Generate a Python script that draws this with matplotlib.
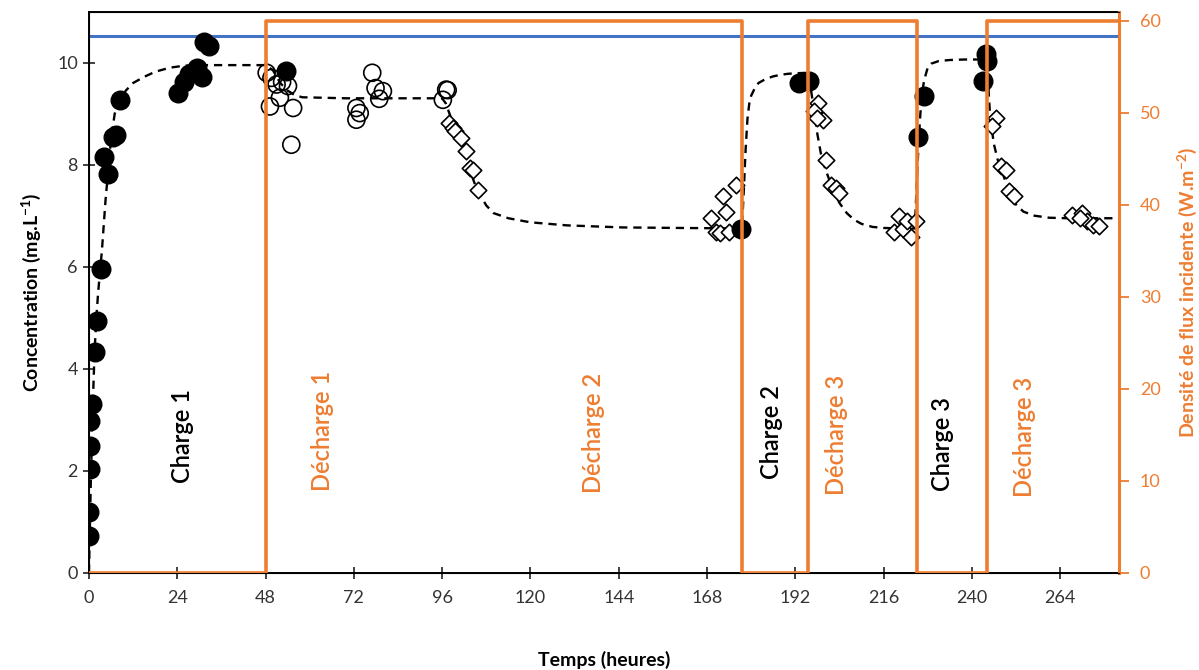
import matplotlib
matplotlib.use('Agg')
import matplotlib.pyplot as plt

# couleurs type Excel
ORANGE = '#ED7D31'
BLEU = '#4472C4'

# charge (ronds pleins)
charge_t = [0.0, 0.1, 0.3, 0.2, 0.4, 0.9, 1.7, 2.3, 3.2, 4.1, 5.2, 6.6, 7.4, 8.4,
            24.2, 25.8, 27.1, 29.4, 30.8, 31.3, 32.6, 53.5,
            177.2, 193.1, 195.8, 225.3, 227.1, 242.9, 243.8, 244.0]
charge_c = [0.73, 1.2, 2.03, 2.49, 2.98, 3.32, 4.33, 4.93, 5.95, 8.15, 7.82, 8.55, 8.58, 9.27,
            9.40, 9.62, 9.77, 9.89, 9.72, 10.41, 10.32, 9.83,
            6.74, 9.60, 9.63, 8.55, 9.34, 9.63, 10.16, 10.03]

# decharge 1 (ronds vides)
dech1_t = [48.3, 49.6, 51.0, 49.2, 51.9, 54.1, 55.5, 55.0, 52.5,
           72.7, 73.6, 72.7, 77.0, 77.9, 79.9, 78.9, 97.1, 97.5, 96.2]
dech1_c = [9.80, 9.70, 9.57, 9.14, 9.31, 9.54, 9.11, 8.39, 9.62,
           9.11, 9.01, 8.88, 9.80, 9.50, 9.44, 9.29, 9.47, 9.46, 9.27]

# decharges 2 et 3 (losanges)
dech2_t = [98.0, 98.9, 99.6, 101.2, 102.6, 103.5, 104.4, 105.7,
           175.9, 172.3, 173.2, 169.1, 170.5, 171.4, 174.1,
           198.1, 197.2, 199.4, 197.8, 200.3, 201.7, 203.1, 203.9,
           220.3, 218.9, 221.2, 222.5, 223.4, 224.8,
           246.5, 245.6, 247.9, 249.2, 250.1, 251.5,
           267.3, 270.0, 271.4, 272.8, 274.6, 269.5]
dech2_c = [8.82, 8.72, 8.65, 8.52, 8.26, 7.93, 7.90, 7.51,
           7.61, 7.38, 7.08, 6.95, 6.69, 6.66, 6.69,
           9.21, 9.05, 8.88, 8.91, 8.10, 7.61, 7.54, 7.44,
           6.99, 6.69, 6.73, 6.89, 6.59, 6.89,
           8.91, 8.75, 7.97, 7.90, 7.48, 7.38,
           7.02, 7.05, 6.89, 6.82, 6.79, 6.95]

# courbe du modele (pointilles)
fit_t = [0, 0.5, 1, 1.5, 2, 2.5, 3, 3.5, 4, 4.5, 5, 6, 7, 8, 10, 12, 15, 18, 22, 26, 30, 36, 42, 48,
         50, 52, 54, 56, 58, 70, 85, 96,
         97, 98, 99, 100, 101, 102, 103, 104, 105, 106, 108, 110, 114, 120, 130, 145, 160, 177.5,
         178, 178.5, 179, 179.5, 180, 181, 182, 184, 186, 188, 190, 192, 195.5,
         196, 196.5, 197, 198, 199, 200, 201, 202, 203, 204, 206, 208, 210, 213, 216, 220, 224.5,
         225, 225.5, 226, 226.5, 227, 228, 229, 231, 234, 238, 244,
         244.5, 245, 246, 247, 248, 249, 250, 251, 252, 254, 257, 261, 266, 272, 280]
fit_c = [0, 1.8, 3.2, 4.3, 5.0, 5.5, 5.9, 6.3, 6.8, 7.3, 7.7, 8.5, 9.0, 9.2, 9.45, 9.6, 9.72, 9.82, 9.9, 9.94, 9.95, 9.95, 9.95, 9.95,
         9.85, 9.6, 9.45, 9.36, 9.32, 9.3, 9.3, 9.3,
         9.2, 9.0, 8.8, 8.6, 8.4, 8.2, 8.0, 7.8, 7.6, 7.45, 7.2, 7.05, 6.95, 6.87, 6.81, 6.77, 6.76, 6.75,
         7.5, 8.3, 8.9, 9.2, 9.35, 9.5, 9.6, 9.68, 9.73, 9.76, 9.78, 9.79, 9.8,
         9.6, 9.35, 9.1, 8.6, 8.2, 7.95, 7.75, 7.55, 7.4, 7.25, 7.05, 6.92, 6.84, 6.78, 6.76, 6.75, 6.75,
         7.6, 8.4, 9.0, 9.4, 9.65, 9.9, 9.98, 10.03, 10.05, 10.06, 10.06,
         9.5, 8.9, 8.4, 8.1, 7.9, 7.7, 7.5, 7.35, 7.22, 7.08, 7.0, 6.96, 6.95, 6.95, 6.95]

# densite de flux incidente (creneaux)
flux_t = [0, 48, 177.5, 195.5, 225, 244, 280]
flux_w = [0, 60, 0, 60, 0, 60, 60]

c_sat = 10.52

# etiquettes des phases : (texte, t, c, couleur)
phases = [('Charge 1', 25.3, 2.69, 'black'),
          ('Décharge 1', 63.6, 2.78, ORANGE),
          ('Décharge 2', 137.2, 2.75, ORANGE),
          ('Charge 2', 185.5, 2.76, 'black'),
          ('Décharge 3', 203.2, 2.71, ORANGE),
          ('Charge 3', 231.9, 2.53, 'black'),
          ('Décharge 3', 254.2, 2.67, ORANGE)]


def main():
  plt.rcParams['font.family'] = ['Lato', 'DejaVu Sans']
  plt.rcParams['mathtext.fontset'] = 'custom'
  plt.rcParams['mathtext.rm'] = 'Lato'
  plt.rcParams['mathtext.bf'] = 'Lato:bold'

  fig = plt.figure(figsize=(11.99, 6.70), dpi=100)
  ax = fig.add_axes([0.0742, 0.1448, 0.8591, 0.838])

  ax.plot(fit_t, fit_c, ls=(0, (3.5, 2.5)), color='black', lw=1.7, zorder=2)
  ax.axhline(c_sat, color=BLEU, lw=2.2, zorder=1)
  ax.scatter(dech2_t, dech2_c, marker='D', s=70, facecolors='white', edgecolors='black',
             linewidths=1.2, zorder=3)
  ax.scatter(dech1_t, dech1_c, marker='o', s=150, facecolors='none', edgecolors='black',
             linewidths=1.2, zorder=3)
  ax.scatter(charge_t, charge_c, marker='o', s=180, color='black', zorder=4)

  for txt, t, c, col in phases:
    ax.text(t, c, txt, rotation=90, ha='center', va='center', color=col,
            fontsize=17, fontweight='semibold')

  ax.set_xlim(0, 280)
  ax.set_ylim(0, 11)
  ax.set_xticks(range(0, 265, 24))
  ax.set_yticks(range(0, 11, 2))
  ax.tick_params(axis='both', direction='inout', length=9, width=1.3, labelsize=13,
                 colors='#333333', labelcolor='#333333')
  ax.tick_params(axis='x', pad=8)
  for s in ax.spines.values():
    s.set_linewidth(1.4)
  ax.set_xlabel('Temps (heures)', fontsize=14, fontweight='bold', labelpad=32)
  ax.set_ylabel(r'Concentration (mg.L$^{\mathbf{-1}}$)', fontsize=14, fontweight='bold', labelpad=10)

  # axe de droite : flux
  ax2 = ax.twinx()
  ax2.plot(flux_t, flux_w, drawstyle='steps-post', color=ORANGE, lw=2.6, zorder=5)
  ax2.set_ylim(0, 61)
  ax2.set_yticks(range(0, 61, 10))
  ax2.tick_params(axis='y', direction='out', length=7, width=1.3, labelsize=13,
                  colors=ORANGE, labelcolor=ORANGE, pad=8)
  ax2.spines['right'].set_color(ORANGE)
  ax2.spines['right'].set_linewidth(2.2)
  ax2.set_ylabel(r'Densité de flux incidente (W.m$^{\mathbf{-2}}$)', fontsize=14,
                 fontweight='bold', color=ORANGE, labelpad=10)

  plt.savefig('out.png', dpi=100)


if __name__ == '__main__':
  main()
